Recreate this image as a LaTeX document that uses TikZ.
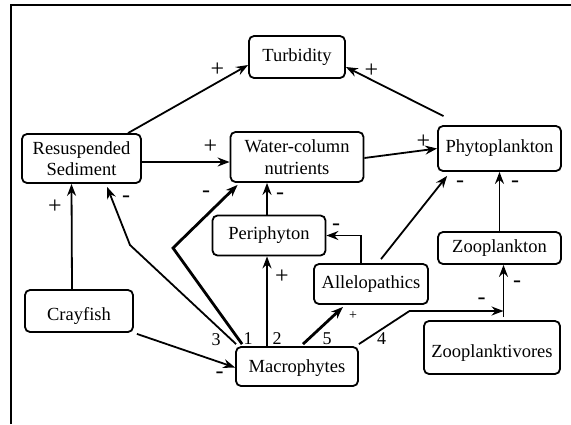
\documentclass[tikz,border=0pt]{standalone}
\usepackage{fontspec}
\setmainfont{Liberation Serif}
\usetikzlibrary{arrows.meta, calc}

\newcommand{\lowtext}[2]{\raisebox{-#1}[\height][\depth]{#2}}

\begin{document}
\begin{tikzpicture}[
    x=1pt, y=-1pt,
    % Define styles for the nodes
    base_node/.style={rectangle, draw=black, line width=1.8pt, align=center, inner sep=0pt, rounded corners=5pt, font=\fontsize{18.5}{21.5}\selectfont},
    sign_node/.style={inner sep=0pt, font=\fontsize{24}{24}\selectfont},
    num_node/.style={inner sep=0pt, font=\fontsize{18}{18}\selectfont},
    small_sign/.style={inner sep=0pt, font=\fontsize{14}{14}\selectfont},
    % Styles for arrows
    arrow/.style={-{Stealth[length=12pt, width=9pt, inset=4pt]}, line width=1.8pt},
    thick_arrow/.style={arrow, line width=2.8pt}
]
    \useasboundingbox (0,0) rectangle (571,424);

    % frame
    \draw [line width=2.2pt] (11,424) |- (571,5);

    % =========================================================================
    % NODES
    % =========================================================================
    \node (turbidity) [base_node, minimum width=96pt, minimum height=42pt] at (297,57) {Turbidity};
    \node (resusp_sed) [base_node, minimum width=119pt, minimum height=49pt] at (81.5,158.5) {Resuspended\\Sediment};
    \node (water_col) [base_node, minimum width=133pt, minimum height=50pt] at (297,157) {Water-column\\nutrients};
    \node (phyto) [base_node, minimum width=123pt, minimum height=45pt] at (499.5,148.5) {Phytoplankton};
    \node (periph) [base_node, minimum width=113pt, minimum height=40pt] at (269,235.5) {Periphyton};
    \node (zoopl) [base_node, minimum width=123pt, minimum height=32pt] at (499.5,248) {Zooplankton};
    \node (allelo) [base_node, minimum width=114pt, minimum height=40pt] at (371,284) {Allelopathics};
    \node (crayfish) [base_node, minimum width=108pt, minimum height=42pt] at (79,311) {\lowtext{5pt}{Crayfish}};
    \node (macro) [base_node, minimum width=122pt, minimum height=39pt] at (297,366.5) {\lowtext{1.5pt}{Macrophytes}};
    \node (zplanktiv) [base_node, minimum width=136pt, minimum height=53pt] at (492,347.5) {\lowtext{6pt}{Zooplanktivores}};

    % =========================================================================
    % CONNECTORS
    % =========================================================================
    \draw [arrow] ([xshift=46.5pt]resusp_sed.north) -- ([yshift=-8pt]turbidity.west);
    \draw [arrow] ([xshift=-56pt, yshift=9pt]phyto.north) -- ([yshift=-10pt]turbidity.east);
    \draw [arrow] ([yshift=-3.5pt]resusp_sed.east) -- ([yshift=-5pt]water_col.west);
    \draw [arrow] ([yshift=-1pt]water_col.east) -- (phyto.west);
    \draw [arrow] ([xshift=-7pt]crayfish.north) -- ([xshift=-10pt]resusp_sed.south);

    % links leaving the macrophytes
    \coordinate (bend_3) at (130,245);
    \coordinate (bend_1) at (173,248);
    \coordinate (bend_4) at (409.5,311);
    \draw [arrow] ([xshift=1pt, yshift=2pt]macro.north west) -- (bend_3) -- ([xshift=86pt, yshift=-3pt]resusp_sed.south west);
    \draw [thick_arrow] ([xshift=7pt, yshift=2pt]macro.north west) -- (bend_1) -- ([xshift=8pt, yshift=-2pt]water_col.south west);
    \coordinate (mp_top) at ([xshift=-30pt]macro.north);
    \draw [arrow] (mp_top) -- (mp_top |- periph.south);
    \draw [thick_arrow] ([xshift=6pt, yshift=2pt]macro.north) -- ([xshift=-28pt, yshift=-2pt]allelo.south);
    \coordinate (zp_top) at ([xshift=11.5pt, yshift=3pt]zplanktiv.north);
    \draw [arrow] ([yshift=2pt]macro.north east) -- (bend_4) -- (bend_4 -| zp_top);
    \draw [arrow] ([xshift=3pt, yshift=-1pt]crayfish.south east) -- ([yshift=-1pt]macro.west);

    \draw [arrow] ([xshift=-2pt]periph.north) -- ([xshift=-2pt]periph.north |- water_col.south);
    \draw [arrow] ([xshift=-10pt]allelo.north) |- (periph.east);
    \draw [arrow] ([xshift=10pt, yshift=4pt]allelo.north) -- ([xshift=10pt, yshift=-4pt]phyto.south west);
    \draw [arrow] (zoopl.north) -- (phyto.south);
    \draw [arrow] (zp_top) -- (zp_top |- zoopl.south);

    % =========================================================================
    % SIGNS AND NUMBERS
    % =========================================================================
    \node (s_turb_a) [sign_node] at (217.5,70) {+};
    \node (s_turb_b) [sign_node] at (371.5,71) {+};
    \node (s_nutr) [sign_node] at (210.5,147) {+};
    \node (s_phyto_a) [sign_node] at (423.5,142) {+};
    \node (s_resusp_a) [sign_node] at (55,207) {+};
    \node (s_resusp_b) [sign_node] at (126,199) {-};
    \node (s_nutr_b) [sign_node] at (206,194) {-};
    \node (s_nutr_c) [sign_node] at (280,196) {-};
    \node (s_periph_a) [sign_node] at (282,277) {+};
    \node (s_periph_b) [sign_node] at (336,227) {-};
    \node (s_allelo) [small_sign] at (353,316) {+};
    \node (s_phyto_b) [sign_node] at (460,184) {-};
    \node (s_phyto_c) [sign_node] at (515,184) {-};
    \node (s_zoopl) [sign_node] at (517,284) {-};
    \node (s_zplv) [sign_node] at (481.5,301) {-};
    \node (s_macro) [sign_node] at (219.5,375) {-};

    \node (n_3) [num_node] at (216,340) {3};
    \node (n_1) [num_node] at (248,339) {1};
    \node (n_2) [num_node] at (277,339) {2};
    \node (n_5) [num_node] at (327,339) {5};
    \node (n_4) [num_node] at (381.5,339) {4};

\end{tikzpicture}
\end{document}
